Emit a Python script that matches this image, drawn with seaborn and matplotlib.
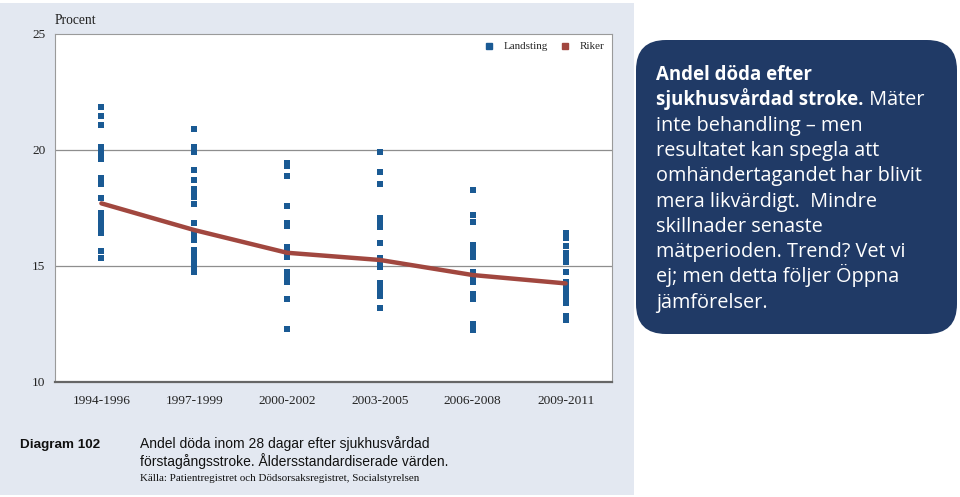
import matplotlib
matplotlib.use('Agg')
import matplotlib.pyplot as plt
import seaborn as sb
import pandas as pd
from matplotlib.patches import Rectangle, FancyBboxPatch
from matplotlib.lines import Line2D

# Periods on the x axis
periods = ['1994-1996', '1997-1999', '2000-2002', '2003-2005', '2006-2008', '2009-2011']

# Landsting values (procent) per period
p1 = [21.84, 21.47, 21.08, 20.12, 19.93, 19.76, 19.6, 18.78, 18.52, 17.92,
      17.27, 17.06, 16.84, 16.62, 16.41, 15.66, 15.36]
p2 = [20.91, 20.12, 19.93, 19.14, 18.71, 18.32, 18.13, 17.96, 17.67, 16.84,
      16.48, 16.31, 16.12, 15.69, 15.5, 15.32, 15.13, 14.94, 14.76]
p3 = [19.45, 19.31, 18.89, 17.6, 16.84, 16.72, 15.83, 15.62, 15.38, 14.76,
      14.58, 14.3, 13.58, 12.27]
p4 = [19.9, 19.07, 18.52, 17.06, 16.87, 16.68, 15.98, 15.33, 15.14, 14.96,
      14.28, 14.09, 13.91, 13.72, 13.2]
p5 = [18.28, 17.2, 16.88, 15.91, 15.72, 15.55, 15.38, 14.73, 14.54, 14.32,
      13.79, 13.56, 12.5, 12.24]
p6 = [16.41, 16.19, 15.86, 15.55, 15.36, 15.17, 14.76, 14.32, 14.14, 13.95,
      13.76, 13.58, 13.39, 12.86, 12.67]
landsting = [p1, p2, p3, p4, p5, p6]

# Riket
riket = [17.7, 16.55, 15.57, 15.26, 14.61, 14.25]

yticks = [10, 15, 20, 25]

blue = '#1a5a94'
red = '#a1473f'
navy = '#203a66'
panel = '#e3e8f1'

df = pd.DataFrame([(per, v) for per, vals in zip(periods, landsting) for v in vals],
                  columns=['period', 'procent'])

sb.set_style('white')
plt.rcParams['font.family'] = ['Liberation Serif', 'DejaVu Serif']

fig = plt.figure(figsize=(9.6, 4.97), dpi=100)

# background layer in pixel coordinates
bg = fig.add_axes([0, 0, 1, 1], zorder=0)
bg.set_xlim(0, 960)
bg.set_ylim(497, 0)
bg.axis('off')
bg.add_patch(Rectangle((0, 3), 634, 492, color=panel, lw=0))
bg.add_patch(FancyBboxPatch((666, 70), 261, 234, boxstyle='round,pad=30',
                            fc=navy, ec='none'))

# chart
ax = fig.add_axes([55 / 960, (497 - 382) / 497, 557 / 960, 348 / 497], zorder=2)
ax.set_facecolor('white')
sb.stripplot(data=df, x='period', y='procent', order=periods, jitter=False,
             marker='s', color=blue, size=4.3, linewidth=0, ax=ax, zorder=3)
sb.pointplot(x=periods, y=riket, color=red, markers='', linewidth=3.2,
             errorbar=None, ax=ax, zorder=4)

ax.set_xlim(-0.5, 5.5)
ax.set_ylim(10, 25)
ax.set_yticks(yticks)
ax.set_xlabel('')
ax.set_ylabel('')
for v in [15, 20]:
    ax.axhline(v, color='#8e8e8e', lw=0.9, zorder=1)
for s in ['left', 'top', 'right']:
    ax.spines[s].set_color('#9a9a9a')
    ax.spines[s].set_linewidth(0.8)
ax.spines['bottom'].set_color('#666666')
ax.spines['bottom'].set_linewidth(1.6)
ax.tick_params(axis='both', length=0, labelsize=9.6, colors='#222222')
ax.tick_params(axis='y', pad=7)
ax.tick_params(axis='x', pad=9)

handles = [Line2D([], [], marker='s', ls='', color=blue, markersize=5),
           Line2D([], [], marker='s', ls='', color=red, markersize=5)]
ax.legend(handles, ['Landsting', 'Riker'], loc='upper right', ncol=2, frameon=False,
          fontsize=7.9, handletextpad=0.3, columnspacing=0.6,
          bbox_to_anchor=(1.0, 1.0), borderaxespad=0.3)

bg.text(55, 24, 'Procent', fontsize=9.8, va='baseline', color='#222222')

# caption
bg.text(20, 448, 'Diagram 102', fontsize=9.7, weight='bold', va='baseline',
        family='Liberation Sans', color='#111111')
bg.text(140, 448, 'Andel döda inom 28 dagar efter sjukhusvårdad', fontsize=10,
        va='baseline', family='Liberation Sans', color='#111111')
bg.text(140, 466, 'förstagångsstroke. Åldersstandardiserade värden.', fontsize=10,
        va='baseline', family='Liberation Sans', color='#111111')
bg.text(140, 481, 'Källa: Patientregistret och Dödsorsaksregistret, Socialstyrelsen',
        fontsize=7.9, va='baseline', color='#111111')

# text box
box_lines = [
    [('Andel döda efter', 'bold')],
    [('sjukhusvårdad stroke.', 'bold'), (' Mäter', 'normal')],
    [('inte behandling – men', 'normal')],
    [('resultatet kan spegla att', 'normal')],
    [('omhändertagandet har blivit', 'normal')],
    [('mera likvärdigt.  Mindre', 'normal')],
    [('skillnader senaste', 'normal')],
    [('mätperioden. Trend? Vet vi', 'normal')],
    [('ej; men detta följer Öppna', 'normal')],
    [('jämförelser.', 'normal')],
]
sizes = {'bold': 13.4, 'normal': 14.3}
renderer = fig.canvas.get_renderer()
for i, parts in enumerate(box_lines):
    x = 656
    y = 80 + i * 25.3
    for txt, w in parts:
        t = bg.text(x, y, txt, fontsize=sizes[w], weight=w, va='baseline',
                    family='Open Sans', color='white')
        x = t.get_window_extent(renderer=renderer).x1

fig.savefig('out.png', dpi=100)
